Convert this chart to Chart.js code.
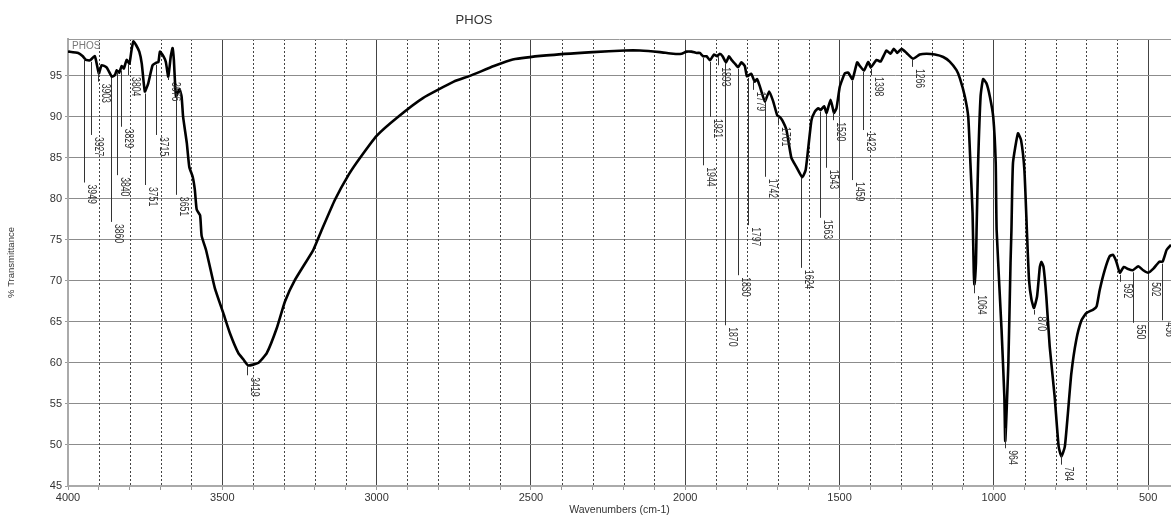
<!DOCTYPE html>
<html lang="en">
<head>
  <meta charset="UTF-8">
  <title>PHOS</title>
  <!-- Chart.js -->
  <script src="https://cdn.jsdelivr.net/npm/chart.js"></script>
  <style>
    html, body { margin: 0; padding: 0; background: #fff; }
    #wrap { width: 1171px; height: 516px; }
  </style>
</head>
<body>
  <div id="wrap"><canvas id="irChart"></canvas></div>

  <script>
    // Spectrum: wavenumber (cm-1) and % transmittance
    const wavenumbers = [
      4000, 3996, 3967, 3952, 3942, 3929, 3913, 3900, 3891, 3875, 3858, 3848, 3842, 3834, 3826, 3819,
      3810, 3801, 3794, 3788, 3780, 3769, 3761, 3751, 3740, 3726, 3715, 3707, 3702, 3691, 3683, 3675,
      3667, 3661, 3657, 3650, 3639, 3632, 3627, 3615, 3607, 3596, 3589, 3583, 3572, 3567, 3553, 3540,
      3524, 3497, 3475, 3448, 3432, 3416, 3384, 3356, 3324, 3297, 3265, 3205, 3178, 3135, 3090, 3054,
      3000, 2931, 2850, 2750, 2698, 2620, 2559, 2450, 2300, 2195, 2147, 2082, 2039, 2012, 1996, 1980,
      1963, 1953, 1942, 1931, 1920, 1907, 1897, 1888, 1879, 1868, 1858, 1850, 1839, 1829, 1818, 1807,
      1800, 1786, 1775, 1767, 1758, 1742, 1728, 1715, 1702, 1694, 1685, 1672, 1656, 1640, 1621, 1610,
      1602, 1591, 1580, 1569, 1561, 1550, 1542, 1529, 1518, 1510, 1499, 1483, 1472, 1458, 1443, 1434,
      1421, 1407, 1399, 1380, 1367, 1348, 1335, 1324, 1313, 1299, 1283, 1262, 1240, 1218, 1191, 1164,
      1143, 1121, 1110, 1094, 1083, 1076, 1069, 1065, 1063, 1058, 1056, 1051, 1043, 1035, 1024, 1013,
      1002, 994, 991, 975, 966, 963, 953, 946, 943, 938, 922, 912, 901, 893, 886, 878,
      870, 860, 851, 846, 839, 830, 819, 803, 790, 781, 770, 760, 749, 733, 716, 700,
      678, 667, 657, 641, 625, 614, 603, 592, 579, 565, 550, 532, 516, 500, 483, 464,
      453, 440, 426
    ];
    const transmittance = [
      97.95, 97.96, 97.8, 97.4, 96.95, 96.9, 97.4, 95.3, 96.3, 96.05, 94.9, 95.1, 95.7, 95.4, 96.2, 95.9,
      96.95, 96.5, 98.2, 99.2, 98.8, 97.96, 96.5, 93.1, 94.1, 96.3, 96.6, 96.7, 97.96, 97.4, 96.7, 94.9,
      97.4, 98.4, 96.95, 92.5, 93.4, 92.5, 90.0, 86.8, 83.9, 82.7, 81.1, 78.7, 78.0, 75.5, 73.8, 71.7,
      69.1, 66.1, 63.6, 61.2, 60.45, 59.7, 60.0, 61.2, 64.2, 67.5, 70.1, 73.8, 76.2, 79.9, 83.0, 85.0,
      87.7, 90.0, 92.3, 94.3, 95.0, 96.2, 97.0, 97.5, 97.9, 98.1, 98.1, 97.9, 97.7, 97.7, 97.96, 97.96,
      97.8, 97.8, 97.4, 97.4, 96.9, 97.6, 97.4, 97.7, 97.4, 96.65, 97.4, 96.95, 96.5, 96.05, 96.65, 96.2,
      94.95, 95.25, 94.3, 94.6, 93.7, 91.9, 93.1, 91.9, 90.2, 90.0, 89.55, 88.4, 85.0, 83.9, 82.65, 83.5,
      86.0, 89.6, 90.65, 91.05, 90.85, 91.3, 90.5, 92.1, 90.5, 91.05, 93.7, 95.3, 95.4, 94.6, 96.65, 96.2,
      95.65, 96.7, 96.05, 96.95, 96.75, 98.1, 97.7, 98.3, 97.8, 98.3, 97.8, 97.1, 97.6, 97.7, 97.6, 97.3,
      96.75, 95.7, 94.7, 92.5, 90.0, 84.4, 78.3, 71.0, 69.6, 72.2, 76.2, 84.4, 92.5, 94.6, 94.1, 92.5,
      90.0, 84.4, 76.2, 64.0, 55.9, 50.5, 60.0, 72.2, 76.2, 84.4, 88.0, 87.2, 83.5, 76.2, 70.1, 67.7,
      66.7, 68.1, 71.7, 72.35, 71.7, 68.1, 62.0, 55.9, 49.8, 48.6, 49.8, 53.9, 58.7, 62.8, 65.2, 66.1,
      66.5, 66.9, 68.9, 71.3, 73.0, 73.2, 72.35, 71.0, 71.7, 71.45, 71.3, 71.8, 71.3, 71.0, 71.5, 72.35,
      72.35, 73.8, 74.4
    ];

    // Peak labels and the % level where each leader line ends
    const peakLabels = [
      3949, 3927, 3903, 3860, 3840, 3829, 3804, 3751, 3715, 3676, 3651, 3419,
      1944, 1921, 1893, 1870, 1830, 1797, 1779, 1742, 1701, 1624, 1563, 1543, 1520,
      1459, 1423, 1398, 1266, 1064, 964, 870, 784, 592, 550, 502, 456
    ];
    const peakLabelEnds = [
      82.0, 87.8, 94.3, 77.2, 82.9, 88.8, 95.1, 81.7, 87.8, 94.5, 80.5, 58.5,
      84.1, 90.0, 96.3, 64.6, 70.7, 76.8, 93.3, 82.7, 89.0, 71.6, 77.7, 83.8, 89.6,
      82.3, 88.4, 95.1, 96.1, 68.5, 49.6, 65.9, 47.6, 69.9, 64.9, 70.1, 65.2
    ];

    // Axis ticks
    const xTicks = [4000, 3500, 3000, 2500, 2000, 1500, 1000, 500];
    const yTicks = [45, 50, 55, 60, 65, 70, 75, 80, 85, 90, 95];
    const xMin = 426, xMax = 4000, yMin = 45, yMax = 99.5;

    const fontFamily = '"Liberation Sans", Arial, sans-serif';

    // Curve value at a wavenumber (linear between read points)
    function curveAt(wn) {
      for (let i = 0; i < wavenumbers.length - 1; i++) {
        const a = wavenumbers[i], b = wavenumbers[i + 1];
        if (wn <= a && wn >= b) {
          const t = (a - wn) / (a - b);
          return transmittance[i] + t * (transmittance[i + 1] - transmittance[i]);
        }
      }
      return transmittance[transmittance.length - 1];
    }

    // Minor x ticks every 100 cm-1
    const minorTicks = [];
    for (let v = xMax; v > xMin; v -= 100) minorTicks.push(v);

    const overlay = {
      id: 'overlay',
      beforeDatasetsDraw(chart) {
        const { ctx, chartArea: a, scales: { x } } = chart;
        ctx.save();
        // dotted grid lines between the 500 lines
        ctx.strokeStyle = '#444';
        ctx.lineWidth = 1;
        ctx.setLineDash([2, 2]);
        minorTicks.forEach(v => {
          if (xTicks.includes(v)) return;
          const px = Math.round(x.getPixelForValue(v)) + 0.5;
          ctx.beginPath();
          ctx.moveTo(px, a.top);
          ctx.lineTo(px, a.bottom);
          ctx.stroke();
        });
        ctx.setLineDash([]);
        // top frame line
        ctx.strokeStyle = '#999';
        ctx.beginPath();
        ctx.moveTo(a.left, a.top + 0.5);
        ctx.lineTo(a.right, a.top + 0.5);
        ctx.stroke();
        ctx.restore();
      },
      afterDatasetsDraw(chart) {
        const { ctx, chartArea: a, scales: { x, y } } = chart;
        ctx.save();
        // peak leader lines and rotated labels
        peakLabels.forEach((wn, i) => {
          const px = Math.round(x.getPixelForValue(wn)) + 0.5;
          const y0 = y.getPixelForValue(curveAt(wn)) + 2;
          const y1 = y.getPixelForValue(peakLabelEnds[i]);
          ctx.strokeStyle = '#333';
          ctx.lineWidth = 1;
          ctx.beginPath();
          ctx.moveTo(px, y0);
          ctx.lineTo(px, y1);
          ctx.stroke();
          ctx.save();
          ctx.translate(px + 1, y1 + 2);
          ctx.rotate(Math.PI / 2);
          ctx.scale(0.72, 1);
          ctx.font = '12px ' + fontFamily;
          ctx.fillStyle = '#333';
          ctx.textAlign = 'left';
          ctx.textBaseline = 'bottom';
          ctx.fillText(String(wn), 0, 0);
          ctx.restore();
        });
        // sample name inside the plot
        ctx.font = '10px ' + fontFamily;
        ctx.fillStyle = '#777';
        ctx.textAlign = 'left';
        ctx.textBaseline = 'top';
        ctx.fillText('PHOS', a.left + 4, a.top + 2);
        // title
        ctx.font = '13px ' + fontFamily;
        ctx.fillStyle = '#333';
        ctx.textAlign = 'center';
        ctx.textBaseline = 'middle';
        ctx.fillText('PHOS', 474, 20);
        ctx.restore();
      }
    };

    const ctx = document.getElementById('irChart').getContext('2d');
    const irChart = new Chart(ctx, {
      type: 'line',
      data: {
        datasets: [{
          label: 'PHOS',
          data: wavenumbers.map((w, i) => ({ x: w, y: transmittance[i] })),
          borderColor: '#000',
          borderWidth: 2.6,
          pointRadius: 0,
          tension: 0.15,
          fill: false
        }]
      },
      options: {
        responsive: true,
        maintainAspectRatio: false,
        devicePixelRatio: 1,
        animation: false,
        layout: { padding: { top: 39, left: 0, right: 0, bottom: 0 } },
        scales: {
          x: {
            type: 'linear',
            reverse: true,
            min: xMin,
            max: xMax,
            afterBuildTicks: s => { s.ticks = minorTicks.map(v => ({ value: v })); },
            afterFit: s => { s.height = 30; },
            ticks: {
              autoSkip: false,
              maxRotation: 0,
              padding: 1,
              color: '#333',
              font: { family: fontFamily, size: 11 },
              callback: v => (xTicks.includes(v) ? String(v) : '')
            },
            grid: {
              color: c => (c.tick && xTicks.includes(c.tick.value) ? '#444' : 'rgba(0,0,0,0)'),
              lineWidth: 1,
              tickLength: 4,
              tickColor: '#999',
              tickWidth: 1
            },
            border: { color: '#aaa', width: 2 },
            title: {
              display: true,
              text: 'Wavenumbers (cm-1)',
              color: '#333',
              font: { family: fontFamily, size: 10.5 },
              padding: { top: 0, bottom: 0 }
            }
          },
          y: {
            min: yMin,
            max: yMax,
            afterBuildTicks: s => { s.ticks = yTicks.map(v => ({ value: v })); },
            afterFit: s => { s.width = 68; },
            ticks: {
              padding: 3,
              color: '#333',
              font: { family: fontFamily, size: 11 }
            },
            grid: { color: '#8c8c8c', lineWidth: 1, tickLength: 3, tickColor: '#999' },
            border: { color: '#aaa', width: 2 },
            title: {
              display: true,
              text: '% Transmittance',
              color: '#333',
              font: { family: fontFamily, size: 9.5 },
              padding: { top: 6, bottom: 0 }
            }
          }
        },
        plugins: {
          legend: { display: false },
          tooltip: { enabled: false }
        }
      },
      plugins: [overlay]
    });
  </script>
</body>
</html>
